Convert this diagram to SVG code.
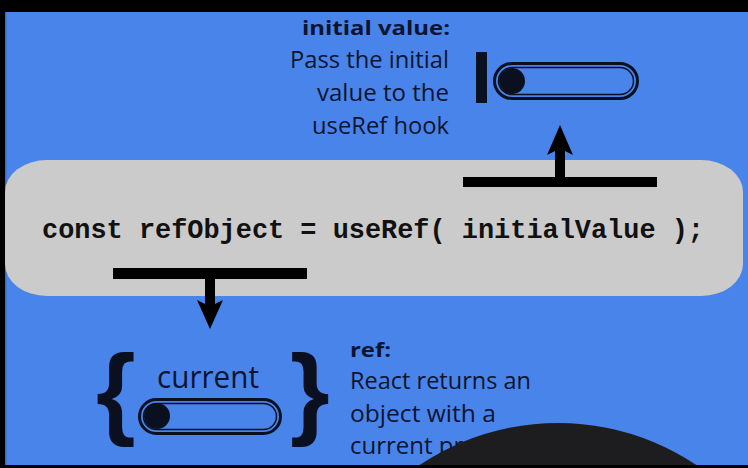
<svg xmlns="http://www.w3.org/2000/svg" width="748" height="468" viewBox="0 0 748 468">
  <style>
    .lbl { font-family: "Open Sans", "Liberation Sans", sans-serif; font-size: 24px; fill: #0c1430; }
    .ttl { font-family: "Open Sans", "Liberation Sans", sans-serif; font-size: 20px; font-weight: bold; fill: #0c1430; }
    .code { font-family: "Liberation Mono", "DejaVu Sans Mono", monospace; font-size: 27px; font-weight: bold; fill: #111111; }
    .pill { fill: none; stroke: #0a1020; }
    .bar { fill: #000000; }
    .brace { font-family: "Liberation Sans", "DejaVu Sans", sans-serif; font-size: 102px; font-weight: bold; fill: #0a1020; }
  </style>
  <rect x="0" y="0" width="748" height="468" fill="#000000"/>
  <rect x="5" y="12" width="743" height="453" fill="#4884ea"/>
  <rect x="5" y="12" width="1.5" height="453" fill="#3a6cc4"/>

  <g id="code-node">
    <rect x="5" y="160" width="738" height="136" rx="42" ry="32" fill="#cbcbcb"/>
    <text class="code" x="42" y="238" textLength="662" lengthAdjust="spacingAndGlyphs">const refObject = useRef( initialValue );</text>
  </g>

  <g id="initial-value-note" text-anchor="end">
    <text class="ttl" x="450" y="35" textLength="148" lengthAdjust="spacingAndGlyphs">initial value:</text>
    <text class="lbl" x="449" y="68" textLength="159" lengthAdjust="spacingAndGlyphs">Pass the initial</text>
    <text class="lbl" x="449" y="101" textLength="132" lengthAdjust="spacingAndGlyphs">value to the</text>
    <text class="lbl" x="449" y="134" textLength="137" lengthAdjust="spacingAndGlyphs">useRef hook</text>
  </g>

  <g id="initial-toggle">
    <rect x="476" y="52" width="11" height="51" fill="#0a1020"/>
    <rect class="pill" x="494.5" y="63.5" width="143" height="35" rx="17.5" stroke-width="3"/>
    <rect class="pill" x="498.5" y="67.5" width="135" height="27" rx="13.5" stroke-width="1.5"/>
    <circle cx="512" cy="81" r="13" fill="#0a1020"/>
  </g>

  <g id="ref-object">
    <text class="brace" x="96" y="426">{</text>
    <text class="brace" x="290" y="426">}</text>
    <text class="lbl" x="157" y="388" textLength="102" lengthAdjust="spacingAndGlyphs" style="font-size:31px">current</text>
    <rect class="pill" x="139.5" y="399.5" width="141" height="34" rx="17" stroke-width="3"/>
    <rect class="pill" x="143.5" y="403.5" width="133" height="26" rx="13" stroke-width="1.5"/>
    <circle cx="157" cy="416" r="13" fill="#0a1020"/>
  </g>

  <g id="ref-note">
    <text class="ttl" x="350" y="357" textLength="41" lengthAdjust="spacingAndGlyphs">ref:</text>
    <text class="lbl" x="350" y="389" textLength="181" lengthAdjust="spacingAndGlyphs">React returns an</text>
    <text class="lbl" x="350" y="422" textLength="146" lengthAdjust="spacingAndGlyphs">object with a</text>
    <text class="lbl" x="350" y="454">current pr</text>
  </g>

  <g id="connectors">
    <rect class="bar" x="463" y="177" width="194" height="10"/>
    <path class="bar" d="M555 177 V151 L547 155 L560 125 L573 155 L565 151 V177 Z"/>
    <rect class="bar" x="113" y="268" width="194" height="11"/>
    <path class="bar" d="M205 279 V304 L197 300 L210 329 L223 300 L215 304 V279 Z"/>
  </g>

  <g id="occluder">
    <circle cx="558" cy="672" r="249" fill="#1d1d1f"/>
    <rect x="0" y="465" width="748" height="3" fill="#000000"/>
  </g>
</svg>
